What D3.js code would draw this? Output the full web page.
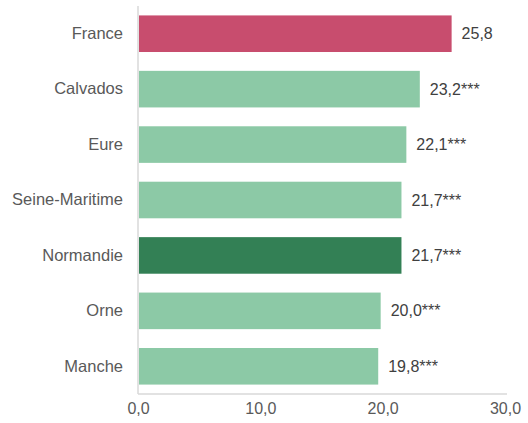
<!DOCTYPE html>
<html><head><meta charset="utf-8">
<script src="https://cdn.jsdelivr.net/npm/d3@7"></script>
<style>body{margin:0;background:#fff}svg{display:block}</style>
</head><body>
<svg id="c" width="528" height="423"></svg>
<script>
const categories = ["France","Calvados","Eure","Seine-Maritime","Normandie","Orne","Manche"];
const values = [25.8,23.2,22.1,21.7,21.7,20.0,19.8];
const valueLabels = ["25,8","23,2***","22,1***","21,7***","21,7***","20,0***","19,8***"];
const tickValues = [0,10,20,30];
const tickLabels = ["0,0","10,0","20,0","30,0"];
const barColors = ["#c84d6e","#8cc9a6","#8cc9a6","#8cc9a6","#338055","#8cc9a6","#8cc9a6"];

const svg = d3.select("#c");
const x = d3.scaleLinear().domain([0,30]).range([138,505]);
const y = d3.scaleBand().domain(categories).range([6,394]).paddingInner(0.34).paddingOuter(0.17);
const font = "'Liberation Sans', Arial, sans-serif";

svg.selectAll("rect.bar").data(categories).join("rect")
  .attr("class","bar")
  .attr("x", x(0)+1)
  .attr("y", d=>y(d))
  .attr("width", (d,i)=>x(values[i])-x(0)-3)
  .attr("height", y.bandwidth())
  .attr("fill", (d,i)=>barColors[i]);

const xAxis = d3.axisBottom(x).tickValues(tickValues).tickSize(0).tickPadding(9)
  .tickFormat((d,i)=>tickLabels[i]);
const gx = svg.append("g").attr("transform","translate(0,394)").call(xAxis);
gx.select(".domain").attr("stroke","#d9d9d9").attr("stroke-width",1.5).attr("d","M138,0H507");
gx.selectAll("text").attr("font-family",font).attr("font-size","16px").attr("fill","#595959");

const yAxis = d3.axisLeft(y).tickSize(0).tickPadding(15);
const gy = svg.append("g").attr("transform","translate(138,0)").call(yAxis);
gy.select(".domain").attr("stroke","#d9d9d9").attr("stroke-width",1.5).attr("d","M0,6V394");
gy.selectAll("text").attr("font-family",font).attr("font-size","16.5px").attr("fill","#595959");

svg.selectAll("text.val").data(categories).join("text")
  .attr("class","val")
  .attr("x",(d,i)=>x(values[i])+8)
  .attr("y",d=>y(d)+y.bandwidth()/2)
  .attr("dy","0.35em")
  .attr("font-family",font).attr("font-size","16px").attr("fill","#404040")
  .text((d,i)=>valueLabels[i]);
</script>
</body></html>
